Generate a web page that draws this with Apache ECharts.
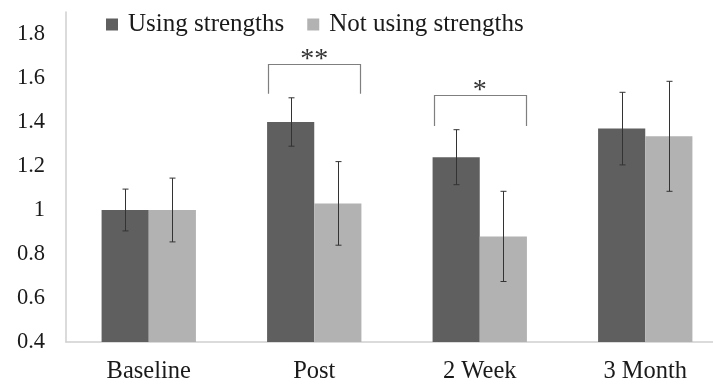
<!DOCTYPE html>
<html>
<head>
<meta charset="utf-8">
<script src="https://cdn.jsdelivr.net/npm/echarts@6/dist/echarts.min.js"></script>
<style>html,body{margin:0;padding:0;background:#fff}#c{width:713px;height:384px}</style>
</head>
<body>
<div id="c"></div>
<script>
// ---- data ----
const categories = ['Baseline', 'Post', '2 Week', '3 Month'];
const seriesNames = ['Using strengths', 'Not using strengths'];
const usingValues = [1.00, 1.40, 1.24, 1.37];
const usingErrors = [0.095, 0.11, 0.125, 0.165];
const notUsingValues = [1.00, 1.03, 0.88, 1.335];
const notUsingErrors = [0.145, 0.19, 0.205, 0.25];
const yTicks = [0.4, 0.6, 0.8, 1.0, 1.2, 1.4, 1.6, 1.8];
const bracketCategories = ['Post', '2 Week'];
const bracketTops = [1.665, 1.523];
const bracketLegBottoms = [1.528, 1.382];
const bracketMarks = ['**', '*'];

// ---- styles ----
const FONT = '"Liberation Serif", "Times New Roman", serif';
const DARK = '#5f5f5f';
const LIGHT = '#b2b2b2';
const BAR_OFFSET = 0.1425; // fraction of category band
const BRACKET_HALF = 0.277;

const chart = echarts.init(document.getElementById('c'), null, {renderer: 'canvas'});

function errorData(values, errors) {
  return categories.map((c, i) => [i, values[i] - errors[i], values[i] + errors[i]]);
}

function errorRender(sign) {
  return function (params, api) {
    const ci = api.value(0);
    const lo = api.coord([ci, api.value(1)]);
    const hi = api.coord([ci, api.value(2)]);
    const bw = api.size([1, 0])[0];
    const x = Math.round(lo[0] + sign * bw * BAR_OFFSET) + 0.5;
    const cap = 3;
    const style = {stroke: '#333', lineWidth: 1};
    return {
      type: 'group',
      children: [
        {type: 'line', shape: {x1: x, y1: hi[1], x2: x, y2: lo[1]}, style},
        {type: 'line', shape: {x1: x - cap, y1: hi[1], x2: x + cap, y2: hi[1]}, style},
        {type: 'line', shape: {x1: x - cap, y1: lo[1], x2: x + cap, y2: lo[1]}, style}
      ]
    };
  };
}

const bracketData = bracketCategories.map((c, i) => [categories.indexOf(c), bracketTops[i], bracketLegBottoms[i]]);

const option = {
  animation: false,
  backgroundColor: '#fff',
  textStyle: {fontFamily: FONT},
  legend: {
    data: seriesNames,
    left: 101,
    top: 7,
    icon: 'rect',
    itemWidth: 12,
    itemHeight: 12,
    itemGap: 23,
    textStyle: {fontFamily: FONT, fontSize: 25, color: '#1a1a1a', padding: [0, 0, 0, 5]}
  },
  grid: {left: 66, width: 662, top: 12, bottom: 42, containLabel: false, outerBoundsMode: 'none'},
  xAxis: {
    type: 'category',
    data: categories,
    axisLine: {lineStyle: {color: '#cfcfcf', width: 1.5}},
    axisTick: {show: false},
    axisLabel: {fontFamily: FONT, fontSize: 24.5, color: '#1a1a1a', margin: 17}
  },
  yAxis: {
    type: 'value',
    min: 0.4,
    max: 1.9,
    interval: 0.2,
    axisLine: {show: true, lineStyle: {color: '#cfcfcf', width: 1.5}},
    axisTick: {show: false},
    splitLine: {show: false},
    axisLabel: {
      fontFamily: FONT, fontSize: 22.5, color: '#1a1a1a', margin: 21, showMaxLabel: false,
      formatter: function (v) {
        const t = yTicks.find(k => Math.abs(k - v) < 1e-6);
        return t === undefined ? '' : String(Math.round(t * 10) / 10);
      }
    }
  },
  series: [
    {name: seriesNames[0], type: 'bar', data: usingValues, itemStyle: {color: DARK}, barGap: '0%', barCategoryGap: '43%'},
    {name: seriesNames[1], type: 'bar', data: notUsingValues, itemStyle: {color: LIGHT}, barGap: '0%', barCategoryGap: '43%'},
    {type: 'custom', data: errorData(usingValues, usingErrors), renderItem: errorRender(-1), z: 5, silent: true, encode: {x: 0, y: [1, 2]}},
    {type: 'custom', data: errorData(notUsingValues, notUsingErrors), renderItem: errorRender(1), z: 5, silent: true, encode: {x: 0, y: [1, 2]}},
    {
      type: 'custom', data: bracketData, z: 6, silent: true, encode: {x: 0, y: [1, 2]},
      renderItem: function (params, api) {
        const ci = api.value(0);
        const top = api.coord([ci, api.value(1)]);
        const bot = api.coord([ci, api.value(2)]);
        const bw = api.size([1, 0])[0];
        const x1 = Math.round(top[0] - bw * BRACKET_HALF) + 0.5;
        const x2 = Math.round(top[0] + bw * BRACKET_HALF) + 0.5;
        const y = Math.round(top[1]) + 0.5;
        const style = {stroke: '#7f7f7f', lineWidth: 1.2, fill: null};
        return {
          type: 'group',
          children: [
            {type: 'polyline', shape: {points: [[x1, bot[1]], [x1, y], [x2, y], [x2, bot[1]]]}, style},
            {type: 'text', x: top[0], y: y - 5, style: {text: bracketMarks[params.dataIndex], font: '28px ' + FONT, fill: '#333', align: 'center', verticalAlign: 'middle'}}
          ]
        };
      }
    }
  ]
};
chart.setOption(option);
</script>
</body>
</html>
